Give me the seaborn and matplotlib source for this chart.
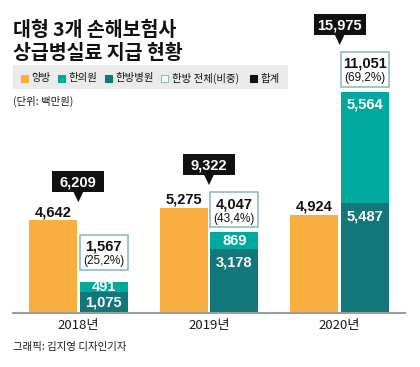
"""
대형 3개 손해보험사 상급병실료 지급 현황 - stacked/dodged bars with callouts.
Saves: out.png (420x367)
"""
import matplotlib

matplotlib.use("Agg")
import matplotlib.pyplot as plt
import pandas as pd
import seaborn as sns
from matplotlib.patches import Polygon, Rectangle

YEARS = ["2018년", "2019년", "2020년"]
WESTERN = [4642, 5275, 4924]            # 양방
HOSPITAL = [1075, 3178, 5487]           # 한방병원
CLINIC = [491, 869, 5564]               # 한의원
ORIENTAL_TOTAL = [1567, 4047, 11051]    # 한방 전체
GRAND_TOTAL = [6209, 9322, 15975]       # 합계

LEGEND_LABELS = ["양방", "한의원", "한방병원", "한방 전체(비중)", "합계"]

ORANGE = "#F9AF3F"
TEAL = "#00A99D"
DARK = "#13767A"
BORDER = "#8DBDBD"
BLACK = "#111111"

KR = ["Noto Sans CJK KR", "DejaVu Sans"]
NUM = "Liberation Sans"
NUM_SIZE = 10.5

W, H = 420, 367
YMAX = 15650
PX = YMAX / 313  # data units per pixel (vertical)

sns.set_style("white")
plt.rcParams["font.family"] = KR

fig = plt.figure(figsize=(W / 100, H / 100), dpi=100)
ax = fig.add_axes([13 / W, 54 / H, 392 / W, 313 / H])

df_tot = pd.DataFrame({
    "year": YEARS * 2,
    "kind": ["양방"] * 3 + ["한방"] * 3,
    "value": WESTERN + [h + c for h, c in zip(HOSPITAL, CLINIC)],
})
# zero-height 양방 rows keep the dodge slots for the 한방병원 overlay
df_hosp = pd.DataFrame({
    "year": YEARS * 2,
    "kind": ["양방"] * 3 + ["한방"] * 3,
    "value": [0] * 3 + HOSPITAL,
})

common = dict(x="year", y="value", hue="kind", hue_order=["양방", "한방"],
              width=0.773, gap=0.05, errorbar=None, legend=False,
              saturation=1, linewidth=0, ax=ax)
sns.barplot(data=df_tot, palette={"양방": ORANGE, "한방": TEAL}, **common)
sns.barplot(data=df_hosp, palette={"양방": ORANGE, "한방": DARK}, **common)

ax.set_xlim(-0.5, 2.5)
ax.set_ylim(0, YMAX)
ax.set_xlabel("")
ax.set_ylabel("")
ax.set_yticks([])
for s in ["top", "left", "right"]:
    ax.spines[s].set_visible(False)
ax.spines["bottom"].set_color("#9c9c9c")
ax.spines["bottom"].set_linewidth(1.5)
ax.set_xticks(range(len(YEARS)))
ax.set_xticklabels(YEARS, fontsize=9.5, color="#1a1a1a")
ax.tick_params(axis="x", which="major", length=0, pad=4)
ax.set_xticks([-0.5, 0.5, 1.5, 2.5], minor=True)
ax.tick_params(axis="x", which="minor", length=4, direction="in",
               color="#9c9c9c", width=1)

west_bars = list(ax.containers[0].patches)
orient_bars = list(ax.containers[1].patches)

xpx = 1 / 130.67  # data units per pixel (horizontal)

for i in range(len(YEARS)):
    wb, ob = west_bars[i], orient_bars[i]
    wx = wb.get_x() + wb.get_width() / 2
    ox = ob.get_x() + ob.get_width() / 2
    gx = (wx + ox) / 2

    # 양방 value above bar
    ax.text(wx, WESTERN[i] + 4 * PX, f"{WESTERN[i]:,}", ha="center",
            va="baseline", fontsize=NUM_SIZE, fontweight="bold", family=NUM,
            color=BLACK)

    # inside labels
    segs = [(0, HOSPITAL[i]), (HOSPITAL[i], HOSPITAL[i] + CLINIC[i])]
    for (lo, hi), val in zip(segs, [HOSPITAL[i], CLINIC[i]]):
        if (hi - lo) / PX > 40:
            y = hi - 17 * PX
        else:
            y = (lo + hi) / 2 - 4 * PX
        ax.text(ox, y, f"{val:,}", ha="center", va="baseline",
                fontsize=NUM_SIZE, fontweight="bold", family=NUM,
                color="white")

    # 한방 전체 box
    top = HOSPITAL[i] + CLINIC[i]
    gap = 12 if CLINIC[i] / PX < 12 else 5
    b0 = top + gap * PX
    bw = ob.get_width()
    ax.add_patch(Rectangle((ob.get_x(), b0), bw, 35 * PX, facecolor="white",
                           edgecolor=BORDER, linewidth=1.2, clip_on=False))
    share = ORIENTAL_TOTAL[i] / GRAND_TOTAL[i] * 100
    ax.text(ox, b0 + 19 * PX, f"{ORIENTAL_TOTAL[i]:,}", ha="center",
            va="baseline", fontsize=NUM_SIZE, fontweight="bold", family=NUM,
            color=BLACK)
    ax.text(ox, b0 + 5.5 * PX, f"({share:.1f}%)".replace(".", ","),
            ha="center", va="baseline", fontsize=8.5, family=NUM,
            color=BLACK)

    # 합계 callout
    tip = max(WESTERN[i] + 18 * PX, b0 + 35 * PX + 7 * PX)
    cb = tip + 10 * PX
    cw = 52 * xpx
    ax.add_patch(Rectangle((gx - cw / 2, cb), cw, 21 * PX, facecolor=BLACK,
                           edgecolor="none", clip_on=False))
    ax.add_patch(Polygon([(gx - 5 * xpx, cb + 0.5 * PX), (gx + 5 * xpx, cb + 0.5 * PX),
                          (gx, tip)], closed=True, facecolor=BLACK,
                         edgecolor="none", clip_on=False))
    ax.text(gx, cb + 5.5 * PX, f"{GRAND_TOTAL[i]:,}", ha="center",
            va="baseline", fontsize=NUM_SIZE, fontweight="bold", family=NUM,
            color="white")

# title and notes
fig.text(13 / W, 1 - 36 / H, "대형 3개 손해보험사", fontsize=14,
         fontweight="bold", color=BLACK, va="baseline")
fig.text(13 / W, 1 - 59 / H, "상급병실료 지급 현황", fontsize=14,
         fontweight="bold", color=BLACK, va="baseline")
fig.text(13 / W, 1 - 101 / H, "(단위: 백만원)", fontsize=7.5,
         color="#1a1a1a", va="center")
fig.text(13 / W, 1 - 347 / H, "그래픽: 김지영 디자인기자", fontsize=7.5,
         color="#1a1a1a", va="center")

# legend
fig.add_artist(Rectangle((13 / W, 1 - 89 / H), 275 / W, 24 / H,
                         transform=fig.transFigure, facecolor="#EBEBEB",
                         edgecolor="none"))
sq_x = [21, 58, 105, 161, 250]
face = [ORANGE, TEAL, DARK, "white", BLACK]
edge = [ORANGE, TEAL, DARK, BORDER, BLACK]
for x0, fc, ec, lab in zip(sq_x, face, edge, LEGEND_LABELS):
    fig.add_artist(Rectangle((x0 / W, 1 - 81.5 / H), 6.5 / W, 6.5 / H,
                             transform=fig.transFigure, facecolor=fc,
                             edgecolor=ec, linewidth=0.8))
    fig.text((x0 + 10.5) / W, 1 - 78.5 / H, lab, fontsize=7.5,
             color="#111111", va="center")

fig.savefig("out.png", dpi=100)
